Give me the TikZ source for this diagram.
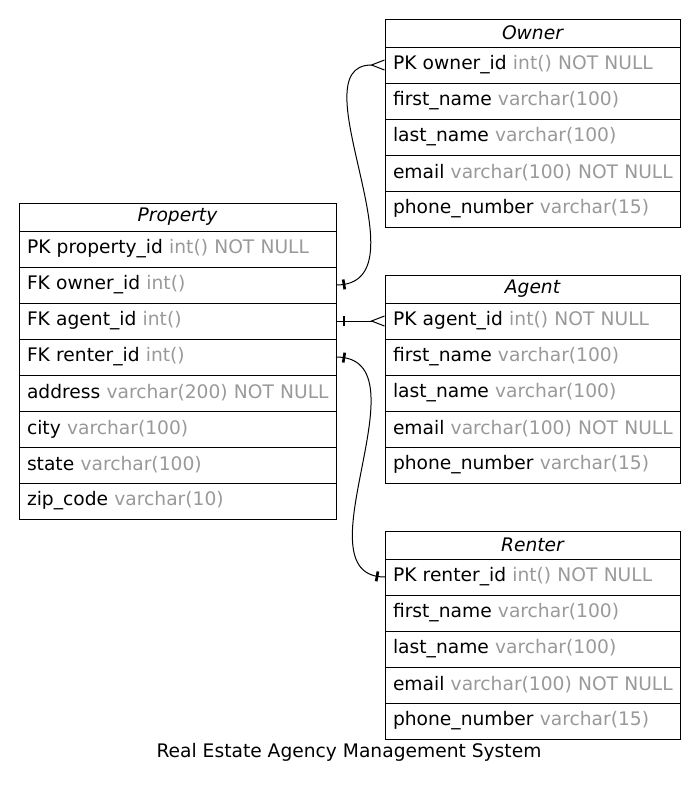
\documentclass[tikz,border=0pt]{standalone}
\usepackage{fontspec}
\setmainfont{DejaVu Sans}
\usetikzlibrary{positioning,arrows.meta,decorations.markings}
\definecolor{typegray}{HTML}{999999}
\newcommand{\fld}[2]{\mbox{#1 \textcolor{typegray}{#2}}}

\begin{document}
\begin{tikzpicture}[x=0.75pt,y=-0.75pt,line width=0.75pt,
    every node/.style={font=\fontsize{14}{17}\selectfont, outer sep=0pt},
    head/.style={draw, inner sep=0pt, minimum height=21pt, align=center,
        font=\fontsize{14}{17}\selectfont\itshape},
    field/.style={draw, inner ysep=0pt, inner xsep=6pt, minimum height=27pt, align=left},
    widecol/.style={minimum width=237.75pt, text width=225.75pt},
    narrowcol/.style={minimum width=221.25pt, text width=209.25pt},
    crow/.style={-{Straight Barb[reversed,length=9.75pt,width=7.5pt]}},
    onemark/.style={postaction={decorate,decoration={markings,
        mark=at position #1 with {\draw[-, line width=2pt] (0,-3.75pt) -- (0,3.75pt);}}}}]
    \useasboundingbox (0,0) rectangle (698,789);

    \coordinate (prop-top) at (19,203);
    \coordinate (owner-top) at (385,19);
    \coordinate (agent-top) at (385,275);
    \coordinate (renter-top) at (385,531);

    % Property
    \node[head, widecol, anchor=north west] (prop) at (prop-top) {Property};
    \node[field, widecol, below=0pt of prop] (prop-pk) {\fld{PK property\_id}{int() NOT NULL}};
    \node[field, widecol, below=0pt of prop-pk] (prop-owner) {\fld{FK owner\_id}{int()}};
    \node[field, widecol, below=0pt of prop-owner] (prop-agent) {\fld{FK agent\_id}{int()}};
    \node[field, widecol, below=0pt of prop-agent] (prop-renter) {\fld{FK renter\_id}{int()}};
    \node[field, widecol, below=0pt of prop-renter] (prop-address) {\fld{address}{varchar(200) NOT NULL}};
    \node[field, widecol, below=0pt of prop-address] (prop-city) {\fld{city}{varchar(100)}};
    \node[field, widecol, below=0pt of prop-city] (prop-state) {\fld{state}{varchar(100)}};
    \node[field, widecol, below=0pt of prop-state] (prop-zip) {\fld{zip\_code}{varchar(10)}};

    % Owner
    \node[head, narrowcol, anchor=north west] (owner) at (owner-top) {Owner};
    \node[field, narrowcol, below=0pt of owner] (owner-pk) {\fld{PK owner\_id}{int() NOT NULL}};
    \node[field, narrowcol, below=0pt of owner-pk] (owner-first) {\fld{first\_name}{varchar(100)}};
    \node[field, narrowcol, below=0pt of owner-first] (owner-last) {\fld{last\_name}{varchar(100)}};
    \node[field, narrowcol, below=0pt of owner-last] (owner-email) {\fld{email}{varchar(100) NOT NULL}};
    \node[field, narrowcol, below=0pt of owner-email] (owner-phone) {\fld{phone\_number}{varchar(15)}};

    % Agent
    \node[head, narrowcol, anchor=north west] (agent) at (agent-top) {Agent};
    \node[field, narrowcol, below=0pt of agent] (agent-pk) {\fld{PK agent\_id}{int() NOT NULL}};
    \node[field, narrowcol, below=0pt of agent-pk] (agent-first) {\fld{first\_name}{varchar(100)}};
    \node[field, narrowcol, below=0pt of agent-first] (agent-last) {\fld{last\_name}{varchar(100)}};
    \node[field, narrowcol, below=0pt of agent-last] (agent-email) {\fld{email}{varchar(100) NOT NULL}};
    \node[field, narrowcol, below=0pt of agent-email] (agent-phone) {\fld{phone\_number}{varchar(15)}};

    % Renter
    \node[head, narrowcol, anchor=north west] (renter) at (renter-top) {Renter};
    \node[field, narrowcol, below=0pt of renter] (renter-pk) {\fld{PK renter\_id}{int() NOT NULL}};
    \node[field, narrowcol, below=0pt of renter-pk] (renter-first) {\fld{first\_name}{varchar(100)}};
    \node[field, narrowcol, below=0pt of renter-first] (renter-last) {\fld{last\_name}{varchar(100)}};
    \node[field, narrowcol, below=0pt of renter-last] (renter-email) {\fld{email}{varchar(100) NOT NULL}};
    \node[field, narrowcol, below=0pt of renter-email] (renter-phone) {\fld{phone\_number}{varchar(15)}};

    \draw[crow, onemark=6pt] (prop-owner.east) .. controls +(94,0) and +(-90,0) .. (owner-pk.west);
    \draw[crow, onemark=6pt] (prop-agent.east) -- (agent-pk.west);
    \draw[onemark=6pt, onemark=-6pt] (prop-renter.east) .. controls +(94,0) and +(-90,0) .. (renter-pk.west);

    \node (caption) at (349,752) {Real Estate Agency Management System};
\end{tikzpicture}
\end{document}
